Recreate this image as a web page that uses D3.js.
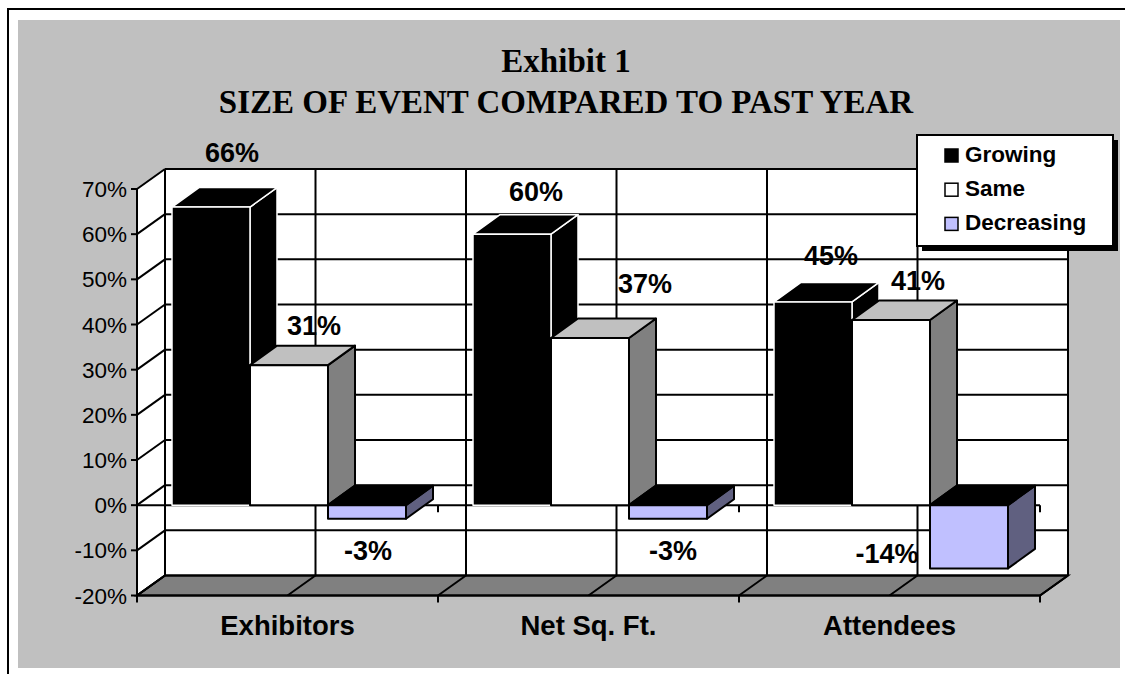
<!DOCTYPE html>
<html>
<head>
<meta charset="utf-8">
<script src="https://cdn.jsdelivr.net/npm/d3@7"></script>
<style>
  html, body { margin: 0; padding: 0; background: #fff; }
  svg { display: block; }
</style>
</head>
<body>
<svg id="chart" width="1125" height="674"></svg>
<script>
// ---- data ----
const categories = ["Exhibitors", "Net Sq. Ft.", "Attendees"];
const seriesNames = ["Growing", "Same", "Decreasing"];
const growing = [66, 60, 45];
const same = [31, 37, 41];
const decreasing = [-3, -3, -14];
const yTicks = [-20, -10, 0, 10, 20, 30, 40, 50, 60, 70];
const yTickLabels = ["-20%", "-10%", "0%", "10%", "20%", "30%", "40%", "50%", "60%", "70%"];
const titleLines = ["Exhibit 1", "SIZE OF EVENT COMPARED TO PAST YEAR"];

const seriesValues = [growing, same, decreasing];

// ---- styling / layout ----
const SANS = "'Liberation Sans', Arial, sans-serif";
const SERIF = "'Liberation Serif', 'Times New Roman', serif";
const faceStyles = {
  Growing:    { front: "#000000", top: "#000000", side: "#000000", stroke: "#ffffff", sw: 1.5 },
  Same:       { front: "#ffffff", top: "#c0c0c0", side: "#808080", stroke: "#000000", sw: 2 },
  Decreasing: { front: "#c0c0ff", top: "#000000", side: "#606080", stroke: "#000000", sw: 2 }
};
const legendFill = { Growing: "#000000", Same: "#ffffff", Decreasing: "#c0c0ff" };

// label nudges (relative to the bar's front-face centre at its value end)
const labelNudge = [
  [[21, -45], [25, -30], [1, 41]],
  [[24, -33], [55, -45], [5, 41]],
  [[18, -37], [27, -30], [-82, -5]]
];

const plotLeft = 137, plotRight = 1040, plotTop = 189, plotBottom = 595.5;
const DX = 28, DY = -20;        // wall depth
const BDX = 27, BDY = -19.5;    // bar depth
const barW = 78;

const svg = d3.select("#chart");

// outer frame and grey chart area
svg.append("rect").attr("x", 8).attr("y", 9).attr("width", 1140).attr("height", 700)
  .attr("fill", "#fff").attr("stroke", "#000").attr("stroke-width", 2);
svg.append("rect").attr("x", 18).attr("y", 20).attr("width", 1102).attr("height", 648)
  .attr("fill", "#c0c0c0");

const y = d3.scaleLinear().domain([-20, 70]).range([plotBottom, plotTop]);
const x = d3.scaleBand().domain(categories).range([plotLeft, plotRight]);
const xs = d3.scaleBand().domain(seriesNames).range([35, 35 + 3 * barW]);

const g = svg.append("g");
const pts = p => p.map(d => d.join(",")).join(" ");

// back wall and side wall
g.append("rect").attr("x", plotLeft + DX).attr("y", plotTop + DY)
  .attr("width", plotRight - plotLeft).attr("height", plotBottom - plotTop).attr("fill", "#fff");
g.append("polygon")
  .attr("points", pts([[plotLeft, plotTop], [plotLeft + DX, plotTop + DY], [plotLeft + DX, plotBottom + DY], [plotLeft, plotBottom]]))
  .attr("fill", "#fff");

// floor
g.append("polygon")
  .attr("points", pts([[plotLeft, plotBottom], [plotRight, plotBottom], [plotRight + DX, plotBottom + DY], [plotLeft + DX, plotBottom + DY]]))
  .attr("fill", "#808080").attr("stroke", "#000").attr("stroke-width", 2);

// horizontal gridlines on back wall + side wall diagonals
yTicks.forEach(v => {
  g.append("line").attr("x1", plotLeft + DX).attr("x2", plotRight + DX)
    .attr("y1", y(v) + DY).attr("y2", y(v) + DY)
    .attr("stroke", "#000").attr("stroke-width", 2);
  g.append("line").attr("x1", plotLeft).attr("x2", plotLeft + DX)
    .attr("y1", y(v)).attr("y2", y(v) + DY)
    .attr("stroke", "#000").attr("stroke-width", 2);
});

// vertical gridlines at half-category steps, continued across the floor
const half = x.bandwidth() / 2;
d3.range(0, 7).forEach(k => {
  const xf = plotLeft + k * half;
  g.append("line").attr("x1", xf + DX).attr("x2", xf + DX)
    .attr("y1", plotTop + DY).attr("y2", plotBottom + DY)
    .attr("stroke", "#000").attr("stroke-width", 2);
  g.append("line").attr("x1", xf).attr("x2", xf + DX)
    .attr("y1", plotBottom).attr("y2", plotBottom + DY)
    .attr("stroke", "#000").attr("stroke-width", 2);
});

// y axis
g.append("line").attr("x1", plotLeft).attr("x2", plotLeft).attr("y1", plotTop).attr("y2", plotBottom)
  .attr("stroke", "#000").attr("stroke-width", 2);
yTicks.forEach((v, i) => {
  g.append("line").attr("x1", plotLeft - 6).attr("x2", plotLeft).attr("y1", y(v)).attr("y2", y(v))
    .attr("stroke", "#000").attr("stroke-width", 2);
  g.append("text").attr("x", plotLeft - 10).attr("y", y(v)).attr("dy", "0.36em")
    .attr("text-anchor", "end").attr("font-family", SANS).attr("font-size", 22.5)
    .attr("fill", "#000").text(yTickLabels[i]);
});

// category axis at zero and along the floor front edge
const bounds = categories.map(c => x(c)).concat([plotRight]);
[y(0), plotBottom].forEach(yy => {
  g.append("line").attr("x1", plotLeft).attr("x2", plotRight).attr("y1", yy).attr("y2", yy)
    .attr("stroke", "#000").attr("stroke-width", 2);
  bounds.forEach(bx => {
    g.append("line").attr("x1", bx).attr("x2", bx).attr("y1", yy).attr("y2", yy + 7)
      .attr("stroke", "#000").attr("stroke-width", 2);
  });
});

// bars
const bars = g.append("g");
categories.forEach((c, ci) => {
  seriesNames.forEach((s, si) => {
    const v = seriesValues[si][ci];
    const st = faceStyles[s];
    const x0 = x(c) + xs(s), x1 = x0 + barW;
    const yHi = y(Math.max(v, 0)), yLo = y(Math.min(v, 0));
    const bg = bars.append("g").attr("stroke", st.stroke).attr("stroke-width", st.sw)
      .attr("stroke-linejoin", "round");
    bg.append("polygon")
      .attr("points", pts([[x1, yHi], [x1 + BDX, yHi + BDY], [x1 + BDX, yLo + BDY], [x1, yLo]]))
      .attr("fill", st.side);
    bg.append("polygon")
      .attr("points", pts([[x0, yHi], [x1, yHi], [x1 + BDX, yHi + BDY], [x0 + BDX, yHi + BDY]]))
      .attr("fill", st.top);
    bg.append("rect").attr("x", x0).attr("y", yHi).attr("width", barW).attr("height", yLo - yHi)
      .attr("fill", st.front);
  });
});

// data labels
categories.forEach((c, ci) => {
  seriesNames.forEach((s, si) => {
    const v = seriesValues[si][ci];
    const cx = x(c) + xs(s) + barW / 2;
    const [nx, ny] = labelNudge[ci][si];
    g.append("text").attr("x", cx + nx).attr("y", y(v) + ny)
      .attr("text-anchor", "middle").attr("font-family", SANS).attr("font-weight", "bold")
      .attr("font-size", 27).attr("fill", "#000").text(v + "%");
  });
});

// category labels
categories.forEach(c => {
  g.append("text").attr("x", x(c) + x.bandwidth() / 2).attr("y", 635)
    .attr("text-anchor", "middle").attr("font-family", SANS).attr("font-weight", "bold")
    .attr("font-size", 27.5).attr("fill", "#000").text(c);
});

// legend
const lg = svg.append("g").attr("transform", "translate(917,135)");
lg.append("rect").attr("x", 5).attr("y", 5).attr("width", 196).attr("height", 111).attr("fill", "#000");
lg.append("rect").attr("x", 0).attr("y", 0).attr("width", 196).attr("height", 111)
  .attr("fill", "#fff").attr("stroke", "#000").attr("stroke-width", 2);
seriesNames.forEach((s, i) => {
  const by = 27 + i * 34.2;
  lg.append("rect").attr("x", 28).attr("y", by - 13).attr("width", 13).attr("height", 13)
    .attr("fill", legendFill[s]).attr("stroke", "#000").attr("stroke-width", 1.5);
  lg.append("text").attr("x", 48).attr("y", by).attr("font-family", SANS)
    .attr("font-weight", "bold").attr("font-size", 22.5).attr("fill", "#000").text(s);
});

// title
titleLines.forEach((t, i) => {
  svg.append("text").attr("x", 566).attr("y", 72 + i * 40.5).attr("text-anchor", "middle")
    .attr("font-family", SERIF).attr("font-weight", "bold").attr("font-size", 33)
    .attr("fill", "#000").text(t);
});
</script>
</body>
</html>
